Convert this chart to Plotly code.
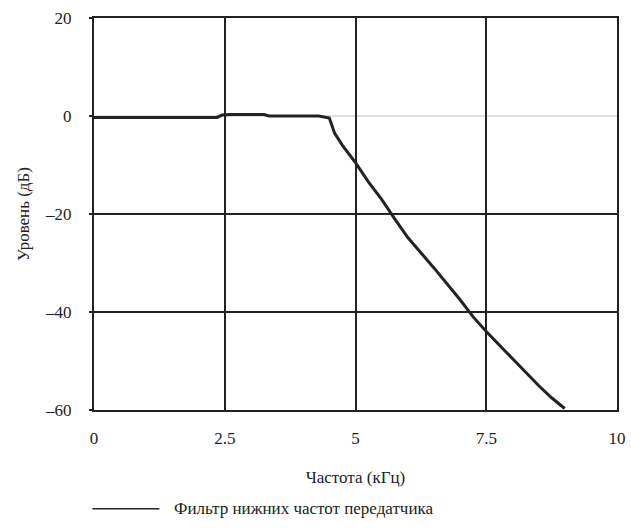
import plotly.graph_objects as go

# Frequency response of the transmitter low-pass filter
freq_khz = [0.0, 0.5, 1.0, 1.5, 2.0, 2.35, 2.45, 2.6, 3.0, 3.25, 3.35, 3.7, 4.0, 4.3, 4.5,
            4.6, 4.75, 5.0, 5.25, 5.5, 5.75, 6.0, 6.5, 7.0, 7.25, 7.5, 8.0, 8.5, 8.75, 9.0]
level_db = [-0.3, -0.3, -0.3, -0.3, -0.3, -0.3, 0.2, 0.3, 0.3, 0.3, 0.0, 0.0, 0.0, 0.0, -0.4,
            -3.5, -6.0, -9.5, -13.5, -17.0, -21.0, -24.8, -31.0, -37.5, -41.0, -44.0, -49.5, -55.0, -57.5, -59.7]

series_name = "Фильтр нижних частот передатчика"

x_ticks = [0, 2.5, 5, 7.5, 10]
x_labels = ["0", "2.5", "5", "7.5", "10"]
y_ticks = [-60, -40, -20, 0, 20]
y_labels = ["–60", "–40", "–20", "0", "20"]

FONT = "Liberation Serif"
INK = "#222222"

fig = go.Figure()
fig.add_trace(go.Scatter(
    x=freq_khz, y=level_db, mode="lines", name=series_name,
    line=dict(color=INK, width=3), showlegend=False,
))

# horizontal gridlines: dark at the inner ticks, thin grey at 0 dB
for v in y_ticks[1:-1]:
    if v == 0:
        line = dict(color="#c0c0c0", width=1)
    else:
        line = dict(color=INK, width=2)
    fig.add_shape(type="line", xref="x domain", yref="y", x0=0, x1=1, y0=v, y1=v,
                  line=line, layer="below")

# legend drawn as a sample line plus label under the axis title
fig.add_shape(type="line", xref="paper", yref="paper", x0=-0.003, x1=0.125,
              y0=-0.252, y1=-0.252, line=dict(color=INK, width=1.5))
fig.add_annotation(text=series_name, xref="paper", yref="paper", x=0.15, y=-0.252,
                   xanchor="left", yanchor="middle", showarrow=False,
                   font=dict(family=FONT, size=17))

fig.update_layout(
    template="none",
    width=631, height=528,
    margin=dict(l=94, r=14, t=18, b=118),
    paper_bgcolor="white", plot_bgcolor="white",
    font=dict(family=FONT, size=17, color=INK),
    xaxis=dict(
        range=[0, 10], tickvals=x_ticks, ticktext=x_labels,
        showgrid=True, gridcolor=INK, gridwidth=2,
        showline=True, linecolor=INK, linewidth=2, mirror=True,
        zeroline=False, ticks="", ticklabelstandoff=12,
        title=dict(text="Частота (кГц)", standoff=24, font=dict(family=FONT, size=17)),
        tickfont=dict(family=FONT, size=17),
    ),
    yaxis=dict(
        range=[-60, 20], tickvals=y_ticks, ticktext=y_labels,
        showgrid=False,
        showline=True, linecolor=INK, linewidth=2, mirror=True,
        zeroline=False, ticks="outside", ticklen=3, tickcolor=INK, tickwidth=2,
        ticklabelstandoff=14,
        title=dict(text="Уровень (дБ)", standoff=11, font=dict(family=FONT, size=17)),
        tickfont=dict(family=FONT, size=17),
    ),
)

fig.write_html("out.html")
